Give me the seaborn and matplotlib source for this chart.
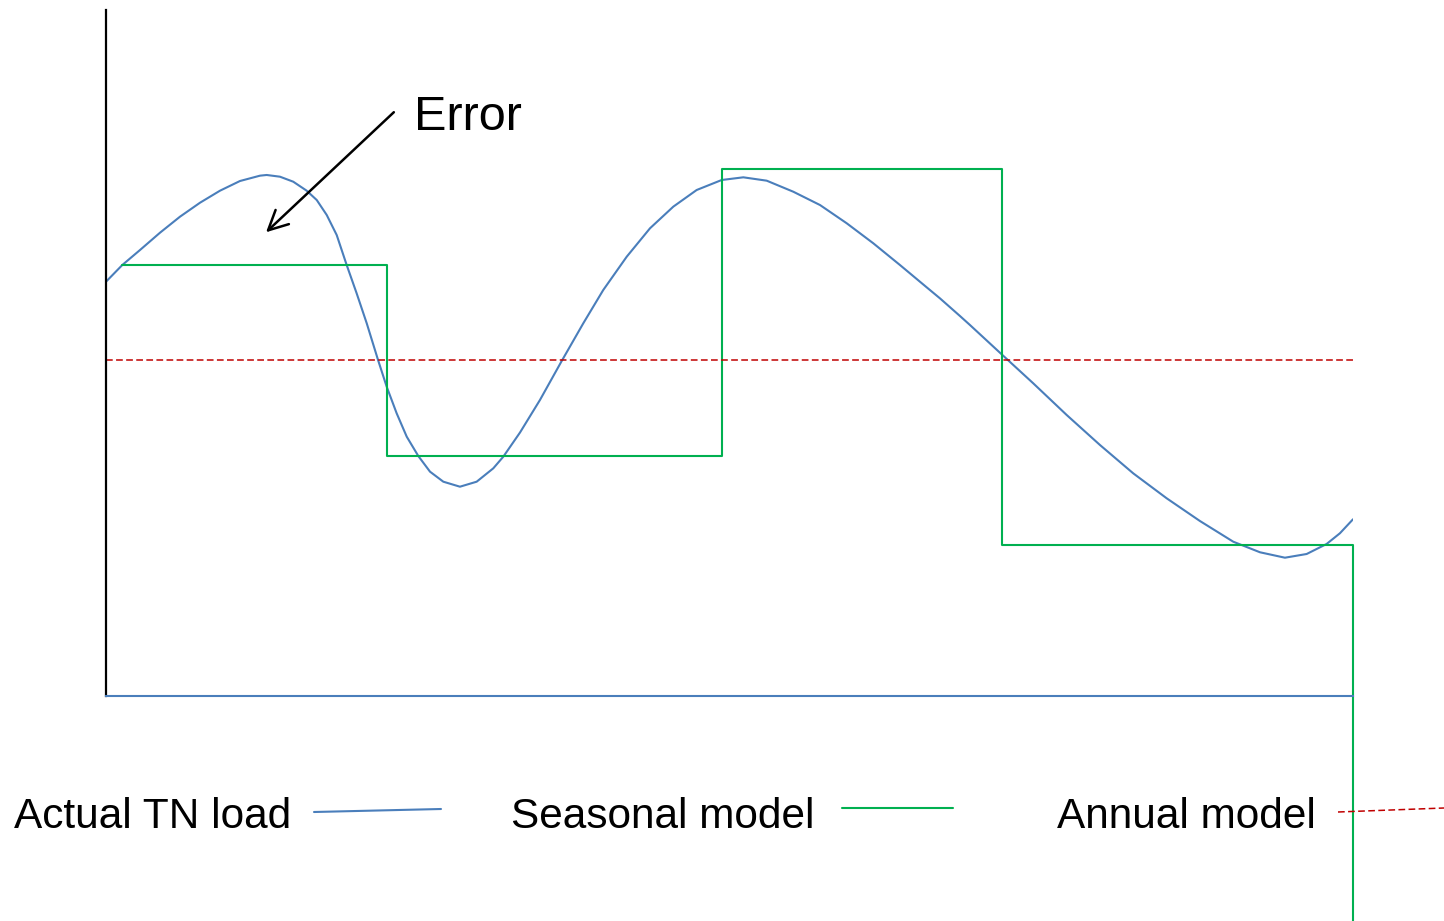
import matplotlib
matplotlib.use("Agg")
import matplotlib.pyplot as plt
from matplotlib.lines import Line2D
import seaborn as sns
import pandas as pd

# ---- data (schematic: months on x, arbitrary load units on y) ----
actual_month = [0.000, 0.157, 0.327, 0.520, 0.712, 0.905, 1.097, 1.289, 1.482, 1.546,
                1.674, 1.802, 1.931, 2.028, 2.124, 2.220, 2.316, 2.412, 2.509, 2.620,
                2.701, 2.797, 2.894, 3.005, 3.118, 3.246, 3.406, 3.567, 3.727, 3.823,
                3.984, 4.176, 4.385, 4.593, 4.785, 5.011, 5.235, 5.459, 5.684, 5.925,
                6.133, 6.358, 6.614, 6.871, 7.128, 7.384, 7.640, 7.897, 8.025, 8.218,
                8.314, 8.619, 8.923, 9.245, 9.565, 9.885, 10.207, 10.527, 10.848,
                11.105, 11.345, 11.554, 11.746, 11.874, 12.000]
actual_load = [6.039, 6.283, 6.501, 6.754, 6.987, 7.191, 7.366, 7.507, 7.585, 7.595,
               7.570, 7.497, 7.366, 7.230, 7.012, 6.720, 6.283, 5.870, 5.433, 4.888,
               4.509, 4.121, 3.780, 3.499, 3.270, 3.124, 3.051, 3.124, 3.319, 3.488,
               3.841, 4.315, 4.883, 5.433, 5.918, 6.404, 6.818, 7.133, 7.376, 7.522,
               7.561, 7.512, 7.351, 7.157, 6.891, 6.599, 6.283, 5.958, 5.797, 5.539,
               5.408, 4.981, 4.558, 4.096, 3.659, 3.246, 2.882, 2.551, 2.249,
               2.095, 2.016, 2.070, 2.216, 2.372, 2.576]

seasonal_edges = [0.157, 2.70, 5.93, 8.62, 12.00, 12.00]
seasonal_level = [6.28, 3.50, 7.68, 2.20, 2.20, -3.28]

annual_month = [0.0, 12.0]
annual_level = [4.90, 4.90]

legend_labels = ["Actual TN load", "Seasonal model", "Annual model"]
annotation_text = "Error"

BLUE = "#4A7EBB"
GREEN = "#00B050"
RED = "#C00000"

sns.set_style("white")
plt.rcParams["font.family"] = ["Liberation Sans", "DejaVu Sans"]
plt.rcParams["text.color"] = "black"

W, H = 1444, 921
fig = plt.figure(figsize=(W / 100, H / 100), dpi=100)
ax = fig.add_axes([106 / W, 1 - 696 / H, 1247 / W, 686 / H])

df_actual = pd.DataFrame({"month": actual_month, "load": actual_load})
sns.lineplot(data=df_actual, x="month", y="load", ax=ax, color=BLUE, lw=1.5,
             sort=False, estimator=None)

df_seas = pd.DataFrame({"month": seasonal_edges, "load": seasonal_level})
sns.lineplot(data=df_seas, x="month", y="load", ax=ax, color=GREEN, lw=1.5,
             sort=False, estimator=None, drawstyle="steps-post", clip_on=False)

df_ann = pd.DataFrame({"month": annual_month, "load": annual_level})
sns.lineplot(data=df_ann, x="month", y="load", ax=ax, color=RED, lw=1.1,
             sort=False, estimator=None, linestyle=(0, (4.4, 2.2)))

ax.set_xlim(0, 12)
ax.set_ylim(0, 10)
ax.set_xticks([])
ax.set_yticks([])
ax.set_xlabel("")
ax.set_ylabel("")
for s in ["top", "right"]:
    ax.spines[s].set_visible(False)
ax.spines["left"].set_color("black")
ax.spines["left"].set_linewidth(1.6)
ax.spines["bottom"].set_color(BLUE)
ax.spines["bottom"].set_linewidth(1.5)
ax.patch.set_alpha(0)

# Error annotation
ax.annotate("", xy=(1.54, 6.76), xytext=(2.77, 8.51),
            arrowprops=dict(arrowstyle="->,head_length=0.7,head_width=0.35",
                            color="black", lw=1.8, mutation_scale=20,
                            shrinkA=0, shrinkB=0))
fig.text(414 / W, 1 - 130 / H, annotation_text, fontsize=35, ha="left",
         va="baseline", color="black")

# legend row
ybase = 1 - 828 / H
fig.text(14 / W, ybase, legend_labels[0], fontsize=30.5, ha="left", va="baseline",
         color="black")
fig.text(511 / W, ybase, legend_labels[1], fontsize=30.5, ha="left", va="baseline",
         color="black")
fig.text(1057 / W, ybase, legend_labels[2], fontsize=30.5, ha="left", va="baseline",
         color="black")

fig.add_artist(Line2D([314 / W, 441 / W], [1 - 812 / H, 1 - 809 / H],
                      transform=fig.transFigure, color=BLUE, lw=1.5))
fig.add_artist(Line2D([842 / W, 953 / W], [1 - 808 / H, 1 - 808 / H],
                      transform=fig.transFigure, color=GREEN, lw=1.5))
fig.add_artist(Line2D([1338 / W, 1444 / W], [1 - 812 / H, 1 - 808 / H],
                      transform=fig.transFigure, color=RED, lw=1.1,
                      linestyle=(0, (4.4, 2.2))))

fig.savefig("out.png", dpi=100, facecolor="white")
